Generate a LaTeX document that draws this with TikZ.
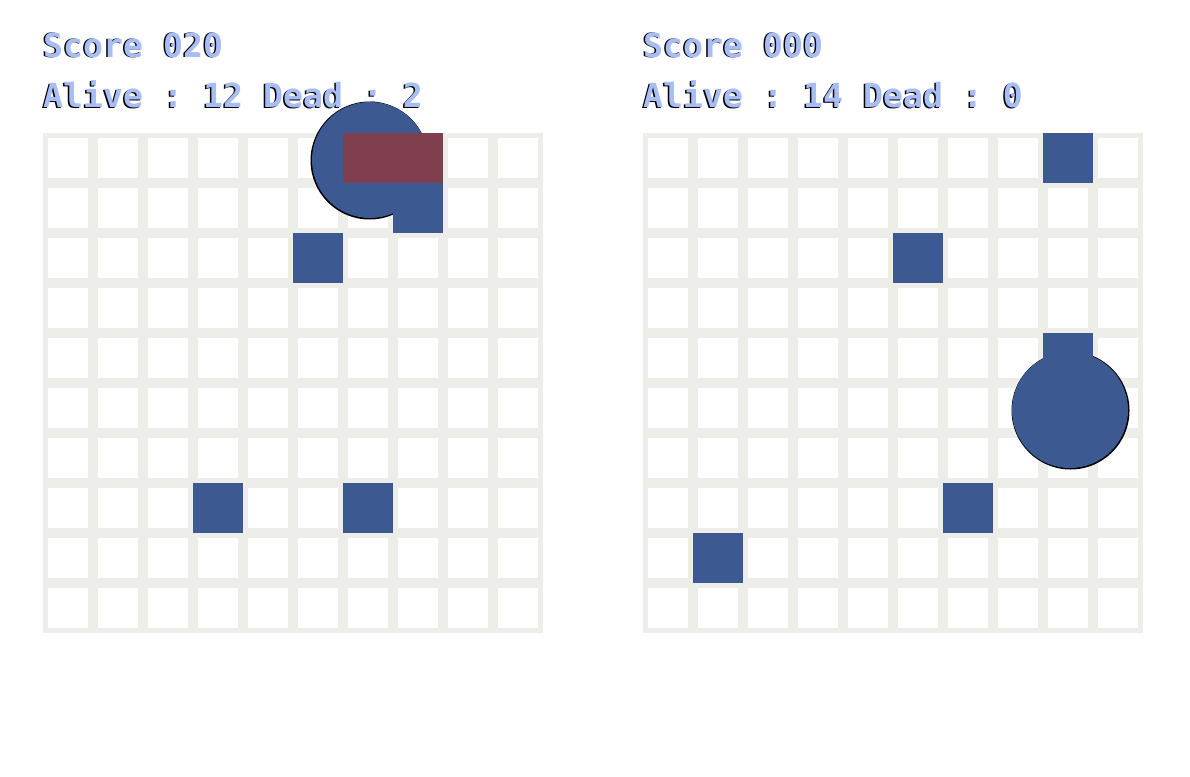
\documentclass[tikz,border=0pt]{standalone}
\usepackage{fontspec}
\newfontfamily\pixfont{DejaVu Sans Mono Bold}
\definecolor{gridgray}{HTML}{EDEDE9}
\definecolor{cellblue}{HTML}{3C5A91}
\definecolor{cellred}{HTML}{7F3F4F}
\definecolor{txtblue}{HTML}{A9BDF5}
\frenchspacing
\begin{document}
\begin{tikzpicture}[x=1pt,y=-1pt,
  hudtext/.style={anchor=base west,inner sep=0pt,font=\pixfont\frenchspacing\fontsize{33.2}{33.2}\selectfont},
  hudshadow/.style={hudtext,text=black},
  hudfront/.style={hudtext,text=txtblue},
  board/.style={fill=gridgray},
  whitecell/.style={fill=white},
  agent/.style={fill=cellblue},
  target/.style={fill=cellred},
  blob/.style={fill=cellblue},
  blobedge/.style={fill=black}]
\useasboundingbox[fill=white] (0,0) rectangle (1190,776);
% HUD texts
\foreach \bx/\sc/\al/\de/\tag in {43/020/12/2/L, 643/000/14/0/R}{
  \node[hudshadow] (score\tag s) at (\bx-1.5,58) {Score \sc};
  \node[hudfront] (score\tag) at (\bx,57) {Score \sc};
  \node[hudshadow] (alive\tag s) at (\bx-1.5,108) {Alive : \al{} Dead : \de};
  \node[hudfront] (alive\tag) at (\bx,107) {Alive : \al{} Dead : \de};
}
% boards
\foreach \bx in {43,643}{
  \fill[board] (\bx,133) rectangle ++(500,500);
  \foreach \i in {0,...,9}{
    \foreach \j in {0,...,9}{
      \fill[whitecell] (\bx+50*\i+5,133+50*\j+5) rectangle ++(40,40);
    }
  }
}
% left board
\foreach \c/\r in {5/2,3/7,6/7}{
  \fill[agent] (43+50*\c,133+50*\r) rectangle ++(50,50);
}
\fill[blobedge] (369.5,160.5) circle (59);
\fill[blob] (370,160) circle (58);
\fill[agent] (393,183) rectangle ++(50,50);
\fill[target] (343,133) rectangle ++(100,50);
% right board
\foreach \c/\r in {8/0,5/2,8/4,6/7,1/8}{
  \fill[agent] (643+50*\c,133+50*\r) rectangle ++(50,50);
}
\fill[blobedge] (1070.5,410.5) circle (59);
\fill[blob] (1070,410) circle (58);
\fill[agent] (1043,333) rectangle ++(50,50);
\end{tikzpicture}
\end{document}
